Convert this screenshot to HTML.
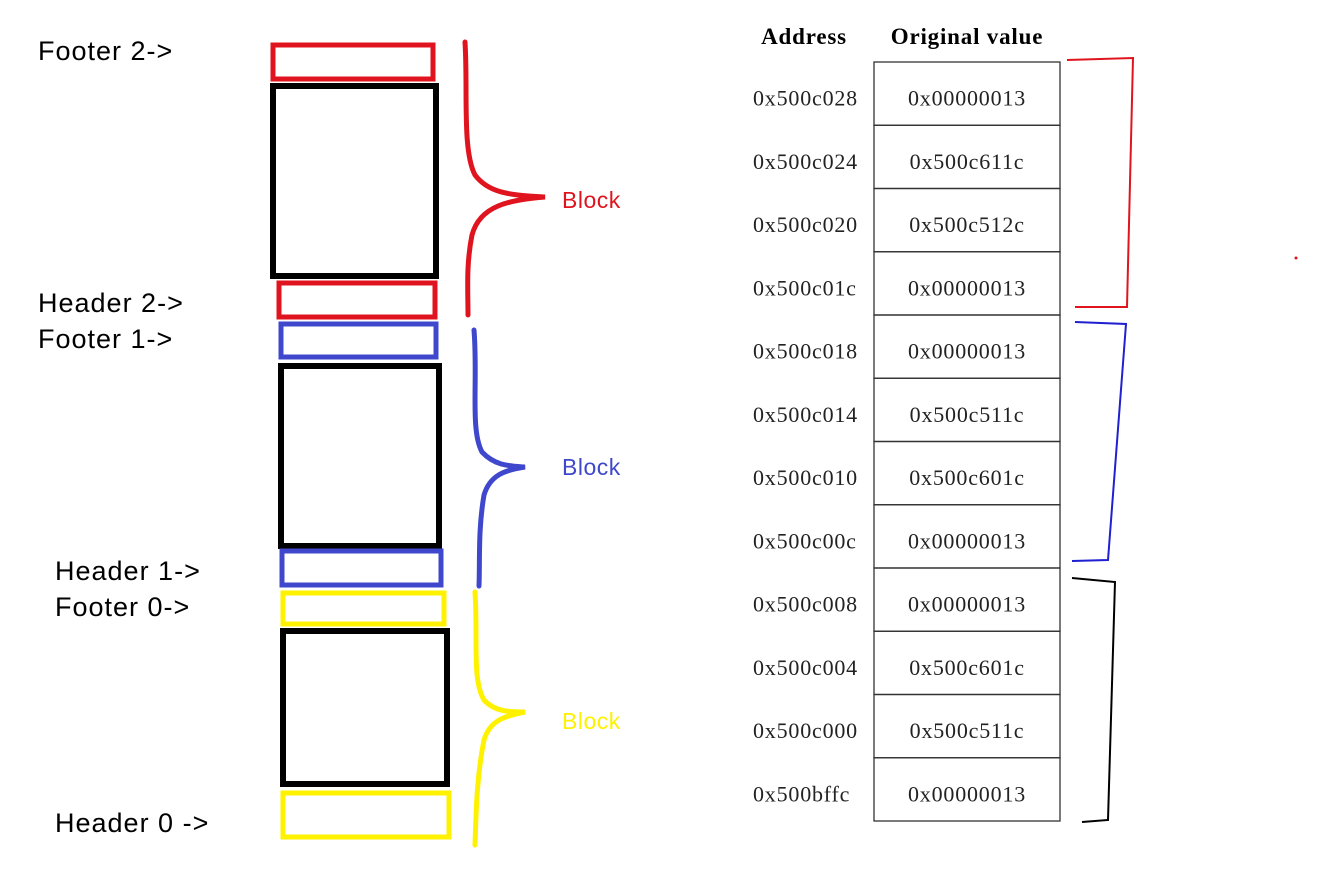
<!DOCTYPE html>
<html><head><meta charset="utf-8"><style>
html,body{margin:0;padding:0;background:#fff;}
svg{display:block;}
.lbl{font-family:"Liberation Sans",sans-serif;font-size:27px;letter-spacing:1px;fill:#000;}
.blk{font-family:"Liberation Sans",sans-serif;font-size:23px;letter-spacing:0.5px;}
.hd{font-family:"Liberation Serif",serif;font-size:23px;font-weight:bold;letter-spacing:0.8px;fill:#000;}
.cell{font-family:"Liberation Serif",serif;font-size:22px;letter-spacing:0.8px;fill:#222;}
</style></head><body>
<svg width="1326" height="885" viewBox="0 0 1326 885">
<g>
<text class="lbl" x="38" y="60">Footer 2-&gt;</text>
<text class="lbl" x="38" y="312">Header 2-&gt;</text>
<text class="lbl" x="38" y="348">Footer 1-&gt;</text>
<text class="lbl" x="55" y="580">Header 1-&gt;</text>
<text class="lbl" x="55" y="616">Footer 0-&gt;</text>
<text class="lbl" x="55" y="832">Header 0 -&gt;</text>
</g>
<g fill="none" stroke-width="5">
<rect x="273" y="45" width="160" height="34" stroke="#e0141e"/>
<rect x="273" y="86" width="163" height="190" stroke="#000" stroke-width="6"/>
<rect x="279" y="283" width="156" height="34" stroke="#e0141e"/>
<rect x="281" y="324" width="155" height="33" stroke="#3f48cc"/>
<rect x="281" y="366" width="158" height="180" stroke="#000" stroke-width="6"/>
<rect x="282" y="551" width="159" height="34" stroke="#3f48cc"/>
<rect x="283" y="593" width="161" height="31" stroke="#fff200"/>
<rect x="283" y="631" width="164" height="153" stroke="#000" stroke-width="6"/>
<rect x="283" y="793" width="166" height="44" stroke="#fff200"/>
</g>
<g fill="none" stroke-width="5" stroke-linecap="round">
<path d="M465 42 C468 90 462 150 475 175 C490 195 515 195 545 197 C510 200 480 205 472 235 C466 265 468 290 468 315" stroke="#e0141e"/>
<path d="M474 330 C478 380 470 430 482 452 C495 466 510 466 525 467 C505 470 490 475 484 495 C478 530 480 560 479 586" stroke="#3f48cc"/>
<path d="M475 592 C478 640 472 680 484 700 C495 712 510 712 525 712 C505 716 490 720 484 740 C476 780 476 820 475 845" stroke="#fff200"/>
</g>
<text class="blk" x="562" y="208" fill="#e0141e">Block</text>
<text class="blk" x="562" y="475" fill="#3f48cc">Block</text>
<text class="blk" x="562" y="729" fill="#fff200">Block</text>
<text class="hd" x="804" y="44" text-anchor="middle">Address</text>
<text class="hd" x="967" y="44" text-anchor="middle">Original value</text>
<g id="tbl"></g>
<g fill="none" stroke-width="2">
<path d="M1067 60 L1133 58 L1127 307 L1075 307" stroke="#e0141e"/>
<path d="M1075 322 L1126 324 L1108 560 L1072 561" stroke="#2020d0"/>
<path d="M1072 578 L1115 582 L1108 820 L1082 822" stroke="#000"/>
</g>
<circle cx="1296" cy="258" r="1.5" fill="#e0141e"/>
</svg>
<script>
const addresses=["0x500c028","0x500c024","0x500c020","0x500c01c","0x500c018","0x500c014","0x500c010","0x500c00c","0x500c008","0x500c004","0x500c000","0x500bffc"];
const values=["0x00000013","0x500c611c","0x500c512c","0x00000013","0x00000013","0x500c511c","0x500c601c","0x00000013","0x00000013","0x500c601c","0x500c511c","0x00000013"];
const NS="http://www.w3.org/2000/svg";
const g=document.getElementById('tbl');
const top0=62,rowH=63.25,x0=874,x1=1060;
addresses.forEach((a,i)=>{
  const y=top0+i*rowH;
  const r=document.createElementNS(NS,'rect');
  r.setAttribute('x',x0);r.setAttribute('y',y);r.setAttribute('width',x1-x0);r.setAttribute('height',rowH);
  r.setAttribute('fill','none');r.setAttribute('stroke','#333');r.setAttribute('stroke-width','1.3');
  
  
  g.appendChild(r);
  const ta=document.createElementNS(NS,'text');
  ta.setAttribute('class','cell');ta.setAttribute('x',753);ta.setAttribute('y',y+rowH/2+12);
  ta.textContent=a;
  
  
  g.appendChild(ta);
  const tv=document.createElementNS(NS,'text');
  tv.setAttribute('class','cell');tv.setAttribute('x',967);tv.setAttribute('y',y+rowH/2+12);tv.setAttribute('text-anchor','middle');
  tv.textContent=values[i];
  
  
  g.appendChild(tv);
});
</script>
</body></html>
